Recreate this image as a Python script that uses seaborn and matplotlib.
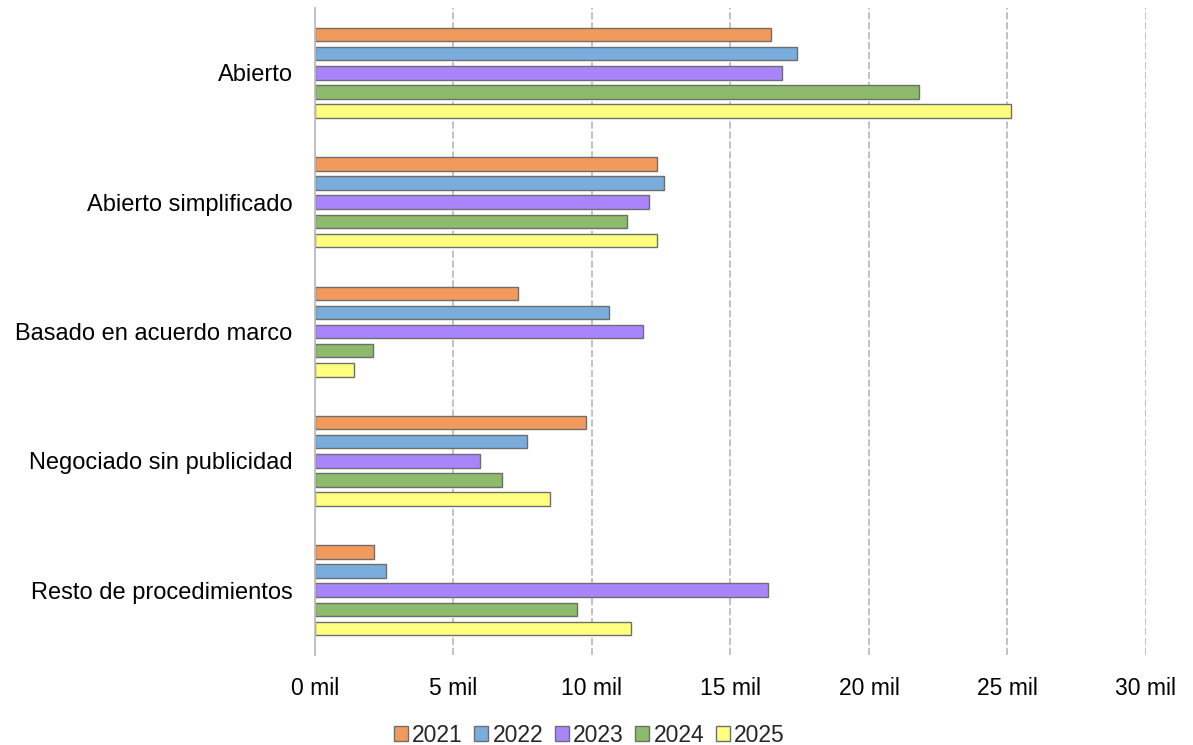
import matplotlib.pyplot as plt
import matplotlib.ticker as mticker
import pandas as pd
import seaborn as sns

# categorias y valores (miles de contratos)
categorias = ['Abierto', 'Abierto simplificado', 'Basado en acuerdo marco',
              'Negociado sin publicidad', 'Resto de procedimientos']
anios = ['2021', '2022', '2023', '2024', '2025']

v2021 = [16.45, 12.36, 7.33, 9.78, 2.14]
v2022 = [17.41, 12.60, 10.61, 7.67, 2.58]
v2023 = [16.86, 12.05, 11.85, 5.97, 16.35]
v2024 = [21.79, 11.26, 2.10, 6.77, 9.46]
v2025 = [25.12, 12.36, 1.41, 8.50, 11.41]

colores = ['#F29A5C', '#7AADDC', '#A985FC', '#8DBB6B', '#FFFF80']

# tabla larga para seaborn
filas = []
for anio, valores in zip(anios, [v2021, v2022, v2023, v2024, v2025]):
    for cat, v in zip(categorias, valores):
        filas.append({'categoria': cat, 'anio': anio, 'valor': v})
df = pd.DataFrame(filas)

sns.set_style('white')
plt.rcParams['font.family'] = ['Liberation Sans', 'DejaVu Sans']

fig = plt.figure(figsize=(11.93, 7.45), dpi=100)
ax = fig.add_axes([0.264, 0.121, 0.6966, 0.868])

sns.barplot(data=df, y='categoria', x='valor', hue='anio', orient='h',
            palette=colores, saturation=1, width=0.74, gap=0.3,
            edgecolor='#6e6e6e', linewidth=1.0, ax=ax, legend=True)

ax.set_xlim(0, 30)
ax.xaxis.set_major_locator(mticker.MultipleLocator(5))
ax.xaxis.set_major_formatter(mticker.FuncFormatter(lambda x, p: f'{int(x)} mil'))
ax.grid(axis='x', color='#bdbdbd', linestyle=(0, (4, 1.5)), linewidth=1.3)
ax.set_axisbelow(True)
ax.set_xlabel('')
ax.set_ylabel('')

for s in ['top', 'right', 'bottom']:
    ax.spines[s].set_visible(False)
ax.spines['left'].set_color('#bdbdbd')
ax.spines['left'].set_linewidth(1.3)

ax.tick_params(axis='x', length=9, color='#bdbdbd', width=1.2, pad=7, labelsize=16.5, labelcolor='black')
ax.tick_params(axis='y', length=0, pad=16, labelsize=17, labelcolor='black')

h, l = ax.get_legend_handles_labels()
ax.get_legend().remove()
fig.legend(h, l, loc='lower center', bbox_to_anchor=(0.494, -0.03), ncol=5,
           frameon=False, fontsize=16.5, handlelength=0.6, handleheight=0.6,
           handletextpad=0.2, columnspacing=0.5)

fig.savefig('out.png', dpi=100)
